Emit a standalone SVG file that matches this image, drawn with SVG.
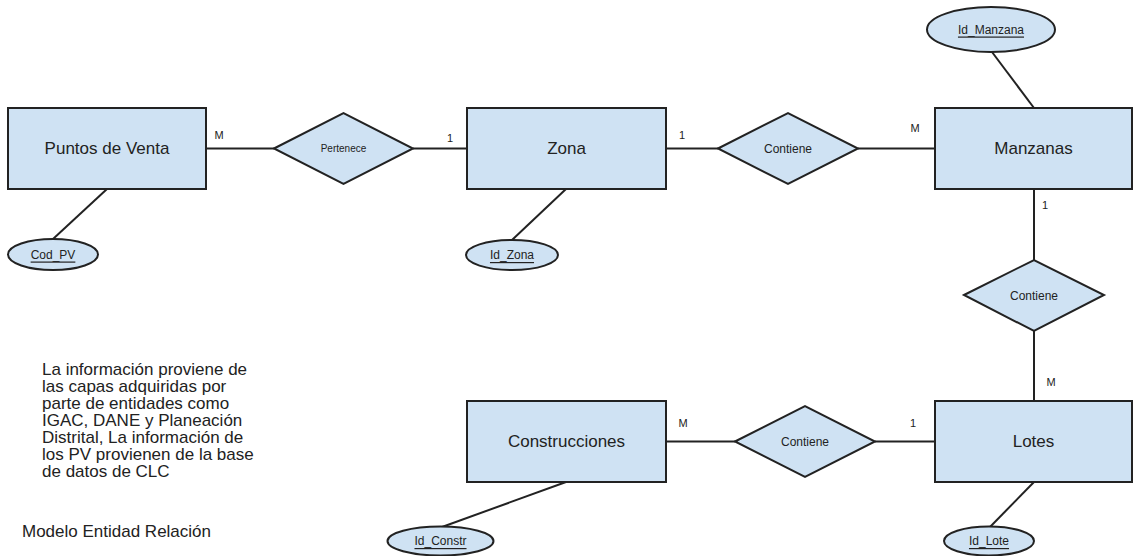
<svg xmlns="http://www.w3.org/2000/svg" width="1133" height="556" viewBox="0 0 1133 556">
<style>
.ent{fill:#cfe2f3;stroke:#222;stroke-width:2}
.rel{fill:#cfe2f3;stroke:#222;stroke-width:2;stroke-linejoin:miter}
.att{fill:#cfe2f3;stroke:#222;stroke-width:2}
.ln{stroke:#222;stroke-width:2;fill:none}
text{font-family:"Liberation Sans",Arial,sans-serif;fill:#222}
.et{font-size:17px;text-anchor:middle;dominant-baseline:central}
.rt{font-size:12px;text-anchor:middle;dominant-baseline:central}
.at{font-size:12px;text-anchor:middle;dominant-baseline:central;text-decoration:underline}
.card{font-size:11px;text-anchor:middle;dominant-baseline:central}
.note{font-size:17px}
</style>
<rect width="1133" height="556" fill="#ffffff"/>
<g id="connectors">
<line class="ln" x1="206" y1="148.5" x2="274" y2="148.5"/>
<line class="ln" x1="413" y1="148.5" x2="467" y2="148.5"/>
<line class="ln" x1="666" y1="148.5" x2="718" y2="148.5"/>
<line class="ln" x1="858" y1="148.5" x2="935" y2="148.5"/>
<line class="ln" x1="1034" y1="189" x2="1034" y2="260"/>
<line class="ln" x1="1034" y1="331" x2="1034" y2="401"/>
<line class="ln" x1="666" y1="441.5" x2="735" y2="441.5"/>
<line class="ln" x1="875" y1="441.5" x2="935" y2="441.5"/>
<line class="ln" x1="107" y1="189" x2="53" y2="239"/>
<line class="ln" x1="566" y1="189" x2="512" y2="240"/>
<line class="ln" x1="992" y1="52" x2="1034" y2="108"/>
<line class="ln" x1="566" y1="482" x2="442" y2="527"/>
<line class="ln" x1="1034" y1="482" x2="990" y2="527"/>
</g>
<g id="puntos_de_venta"><rect class="ent" x="8" y="108" width="198" height="81"/><text class="et" x="107" y="148.5">Puntos de Venta</text></g>
<g id="zona"><rect class="ent" x="467" y="108" width="199" height="81"/><text class="et" x="566.5" y="148.5">Zona</text></g>
<g id="manzanas"><rect class="ent" x="935" y="108" width="197" height="81"/><text class="et" x="1033.5" y="148.5">Manzanas</text></g>
<g id="construcciones"><rect class="ent" x="467" y="401" width="199" height="81"/><text class="et" x="566.5" y="441.5">Construcciones</text></g>
<g id="lotes"><rect class="ent" x="935" y="401" width="197" height="81"/><text class="et" x="1033.5" y="441.5">Lotes</text></g>
<g id="pertenece"><polygon class="rel" points="274,148.5 343.5,113 413,148.5 343.5,184"/><text class="rt" x="343.5" y="148.5" style="font-size:10px">Pertenece</text></g>
<g id="contiene_zona_manzanas"><polygon class="rel" points="718,148.5 788,113 858,148.5 788,184"/><text class="rt" x="788" y="148.5">Contiene</text></g>
<g id="contiene_manzanas_lotes"><polygon class="rel" points="964,295 1034,260 1104,295 1034,331"/><text class="rt" x="1034" y="295.5">Contiene</text></g>
<g id="contiene_lotes_construcciones"><polygon class="rel" points="735,441.5 805,406 875,441.5 805,477"/><text class="rt" x="805" y="441.5">Contiene</text></g>
<g id="cod_pv"><ellipse class="att" cx="53" cy="254.5" rx="45" ry="15.5"/><text class="at" x="53" y="254.5">Cod_PV</text></g>
<g id="id_zona"><ellipse class="att" cx="512" cy="255" rx="46" ry="15"/><text class="at" x="512" y="255">Id_Zona</text></g>
<g id="id_manzana"><ellipse class="att" cx="991" cy="29.5" rx="64" ry="22.5"/><text class="at" x="991" y="29.5">Id_Manzana</text></g>
<g id="id_constr"><ellipse class="att" cx="440.5" cy="541" rx="53" ry="14.5"/><text class="at" x="440.5" y="541">Id_Constr</text></g>
<g id="id_lote"><ellipse class="att" cx="989" cy="541" rx="45" ry="14.5"/><text class="at" x="989" y="541">Id_Lote</text></g>
<g id="cardinalities">
<text class="card" x="219" y="135">M</text>
<text class="card" x="450" y="138">1</text>
<text class="card" x="682" y="135">1</text>
<text class="card" x="915" y="128">M</text>
<text class="card" x="1045" y="205">1</text>
<text class="card" x="1051" y="382">M</text>
<text class="card" x="683" y="423">M</text>
<text class="card" x="913" y="423">1</text>
</g>
<g id="note">
<text class="note" x="42" y="375">La información proviene de</text>
<text class="note" x="42" y="392">las capas adquiridas por</text>
<text class="note" x="42" y="409">parte de entidades como</text>
<text class="note" x="42" y="426">IGAC, DANE y Planeación</text>
<text class="note" x="42" y="443">Distrital, La información de</text>
<text class="note" x="42" y="460">los PV provienen de la base</text>
<text class="note" x="42" y="477">de datos de CLC</text>
<text class="note" x="22" y="537">Modelo Entidad Relación</text>
</g>
</svg>
